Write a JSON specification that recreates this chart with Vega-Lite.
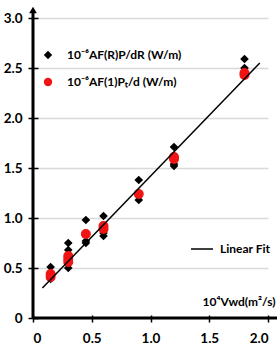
{
  "$schema": "https://vega.github.io/schema/vega-lite/v6.json",
  "width": 235,
  "height": 300,
  "autosize": {"type": "none"},
  "padding": {"left": 33, "top": 18, "right": 9, "bottom": 30},
  "background": "white",
  "config": {
    "view": {"stroke": null},
    "font": "Lato",
    "axis": {
      "labelFont": "Lato",
      "labelFontWeight": "bold",
      "labelFontSize": 13.5,
      "labelColor": "black",
      "tickColor": "black",
      "tickWidth": 1.5,
      "domain": false
    },
    "legend": {
      "labelFont": "Lato",
      "labelFontWeight": "bold",
      "labelFontSize": 12,
      "labelColor": "black",
      "padding": 0
    }
  },
  "datasets": {
    "points": [
      {"vwd": 0.15, "power": 0.51, "series": "10⁻⁶AF(R)P/dR (W/m)"},
      {"vwd": 0.15, "power": 0.42, "series": "10⁻⁶AF(R)P/dR (W/m)"},
      {"vwd": 0.15, "power": 0.39, "series": "10⁻⁶AF(R)P/dR (W/m)"},
      {"vwd": 0.3, "power": 0.75, "series": "10⁻⁶AF(R)P/dR (W/m)"},
      {"vwd": 0.3, "power": 0.68, "series": "10⁻⁶AF(R)P/dR (W/m)"},
      {"vwd": 0.3, "power": 0.55, "series": "10⁻⁶AF(R)P/dR (W/m)"},
      {"vwd": 0.3, "power": 0.5, "series": "10⁻⁶AF(R)P/dR (W/m)"},
      {"vwd": 0.45, "power": 0.98, "series": "10⁻⁶AF(R)P/dR (W/m)"},
      {"vwd": 0.45, "power": 0.77, "series": "10⁻⁶AF(R)P/dR (W/m)"},
      {"vwd": 0.45, "power": 0.75, "series": "10⁻⁶AF(R)P/dR (W/m)"},
      {"vwd": 0.6, "power": 1.02, "series": "10⁻⁶AF(R)P/dR (W/m)"},
      {"vwd": 0.6, "power": 0.85, "series": "10⁻⁶AF(R)P/dR (W/m)"},
      {"vwd": 0.6, "power": 0.82, "series": "10⁻⁶AF(R)P/dR (W/m)"},
      {"vwd": 0.9, "power": 1.38, "series": "10⁻⁶AF(R)P/dR (W/m)"},
      {"vwd": 0.9, "power": 1.18, "series": "10⁻⁶AF(R)P/dR (W/m)"},
      {"vwd": 1.2, "power": 1.71, "series": "10⁻⁶AF(R)P/dR (W/m)"},
      {"vwd": 1.2, "power": 1.54, "series": "10⁻⁶AF(R)P/dR (W/m)"},
      {"vwd": 1.2, "power": 1.52, "series": "10⁻⁶AF(R)P/dR (W/m)"},
      {"vwd": 1.8, "power": 2.59, "series": "10⁻⁶AF(R)P/dR (W/m)"},
      {"vwd": 1.8, "power": 2.5, "series": "10⁻⁶AF(R)P/dR (W/m)"},
      {"vwd": 1.8, "power": 2.42, "series": "10⁻⁶AF(R)P/dR (W/m)"},
      {"vwd": 0.15, "power": 0.44, "series": "10⁻⁶AF(1)Pₜ/d (W/m)"},
      {"vwd": 0.15, "power": 0.41, "series": "10⁻⁶AF(1)Pₜ/d (W/m)"},
      {"vwd": 0.3, "power": 0.62, "series": "10⁻⁶AF(1)Pₜ/d (W/m)"},
      {"vwd": 0.3, "power": 0.59, "series": "10⁻⁶AF(1)Pₜ/d (W/m)"},
      {"vwd": 0.3, "power": 0.56, "series": "10⁻⁶AF(1)Pₜ/d (W/m)"},
      {"vwd": 0.45, "power": 0.84, "series": "10⁻⁶AF(1)Pₜ/d (W/m)"},
      {"vwd": 0.6, "power": 0.92, "series": "10⁻⁶AF(1)Pₜ/d (W/m)"},
      {"vwd": 0.6, "power": 0.89, "series": "10⁻⁶AF(1)Pₜ/d (W/m)"},
      {"vwd": 0.9, "power": 1.24, "series": "10⁻⁶AF(1)Pₜ/d (W/m)"},
      {"vwd": 1.2, "power": 1.61, "series": "10⁻⁶AF(1)Pₜ/d (W/m)"},
      {"vwd": 1.2, "power": 1.59, "series": "10⁻⁶AF(1)Pₜ/d (W/m)"},
      {"vwd": 1.8, "power": 2.45, "series": "10⁻⁶AF(1)Pₜ/d (W/m)"},
      {"vwd": 1.8, "power": 2.43, "series": "10⁻⁶AF(1)Pₜ/d (W/m)"}
    ],
    "fit": [
      {"vwd": 0.08, "power": 0.3, "fit": "Linear Fit"},
      {"vwd": 1.93, "power": 2.55, "fit": "Linear Fit"}
    ]
  },
  "layer": [
    {
      "data": {"name": "points"},
      "transform": [{"filter": "datum.series == '10⁻⁶AF(R)P/dR (W/m)'"}],
      "mark": {"type": "point", "filled": true, "size": 75, "opacity": 1},
      "encoding": {
        "x": {
          "field": "vwd", "type": "quantitative",
          "scale": {"domain": [0, 2], "nice": false, "zero": true},
          "axis": {
            "values": [0, 0.25, 0.5, 0.75, 1, 1.25, 1.5, 1.75, 2],
            "labelExpr": "datum.value == 0 ? '0' : (datum.value * 2) % 1 == 0 ? format(datum.value, '.1f') : ''",
            "grid": false,
            "offset": -3,
            "tickSize": 7,
            "labelPadding": 9,
            "title": "10⁴Vwd(m²/s)",
            "titleFont": "Lato",
            "titleFontWeight": "bold",
            "titleFontSize": 12,
            "titleColor": "black",
            "titleAnchor": "start",
            "titleAlign": "left",
            "titleBaseline": "middle",
            "titleX": 169,
            "titleY": -14
          }
        },
        "y": {
          "field": "power", "type": "quantitative",
          "scale": {"domain": [0, 3], "nice": false},
          "axis": {
            "values": [0, 0.5, 1, 1.5, 2, 2.5, 3],
            "labelExpr": "datum.value == 0 ? '0' : format(datum.value, '.1f')",
            "grid": true,
            "gridColor": "#d9d9d9",
            "gridWidth": 1.5,
            "offset": -5,
            "tickSize": 10,
            "labelPadding": 6,
            "title": null
          }
        },
        "color": {
          "field": "series", "type": "nominal",
          "scale": {"domain": ["10⁻⁶AF(R)P/dR (W/m)", "10⁻⁶AF(1)Pₜ/d (W/m)"], "range": ["black", "#f01414"]},
          "legend": {
            "title": null, "orient": "none", "legendX": 9, "legendY": 31,
            "symbolSize": 70, "labelOffset": 13, "rowPadding": 15,
            "symbolOpacity": 1
          }
        },
        "shape": {
          "field": "series", "type": "nominal",
          "scale": {"domain": ["10⁻⁶AF(R)P/dR (W/m)", "10⁻⁶AF(1)Pₜ/d (W/m)"], "range": ["diamond", "circle"]},
          "legend": {
            "title": null, "orient": "none", "legendX": 9, "legendY": 31,
            "symbolSize": 70, "labelOffset": 13, "rowPadding": 15
          }
        }
      }
    },
    {
      "data": {"name": "points"},
      "transform": [{"filter": "datum.series == '10⁻⁶AF(1)Pₜ/d (W/m)'"}],
      "mark": {"type": "point", "filled": true, "size": 100, "opacity": 1},
      "encoding": {
        "x": {"field": "vwd", "type": "quantitative"},
        "y": {"field": "power", "type": "quantitative"},
        "color": {"field": "series", "type": "nominal"},
        "shape": {"field": "series", "type": "nominal"}
      }
    },
    {
      "data": {"name": "fit"},
      "mark": {"type": "line", "strokeWidth": 1.5},
      "encoding": {
        "x": {"field": "vwd", "type": "quantitative"},
        "y": {"field": "power", "type": "quantitative"},
        "stroke": {
          "field": "fit", "type": "nominal",
          "scale": {"range": ["black"]},
          "legend": {
            "title": null, "orient": "none", "legendX": 157, "legendY": 219,
            "symbolType": "stroke", "symbolSize": 484, "symbolStrokeWidth": 1.5,
            "labelOffset": 6
          }
        }
      }
    },
    {
      "data": {"values": [{}]},
      "mark": {"type": "rule", "color": "black", "strokeWidth": 3},
      "encoding": {
        "x": {"datum": 0, "type": "quantitative"},
        "y": {"datum": 0, "type": "quantitative"},
        "y2": {"datum": 3.08}
      }
    },
    {
      "data": {"values": [{}]},
      "mark": {"type": "rule", "color": "black", "strokeWidth": 3},
      "encoding": {
        "y": {"datum": 0, "type": "quantitative"},
        "x": {"datum": 0, "type": "quantitative"},
        "x2": {"datum": 2.1}
      }
    },
    {
      "data": {"values": [{}]},
      "mark": {"type": "point", "shape": "triangle-up", "filled": true, "color": "black", "size": 60, "opacity": 1},
      "encoding": {
        "x": {"datum": 0, "type": "quantitative"},
        "y": {"datum": 3.08, "type": "quantitative"}
      }
    }
  ]
}
